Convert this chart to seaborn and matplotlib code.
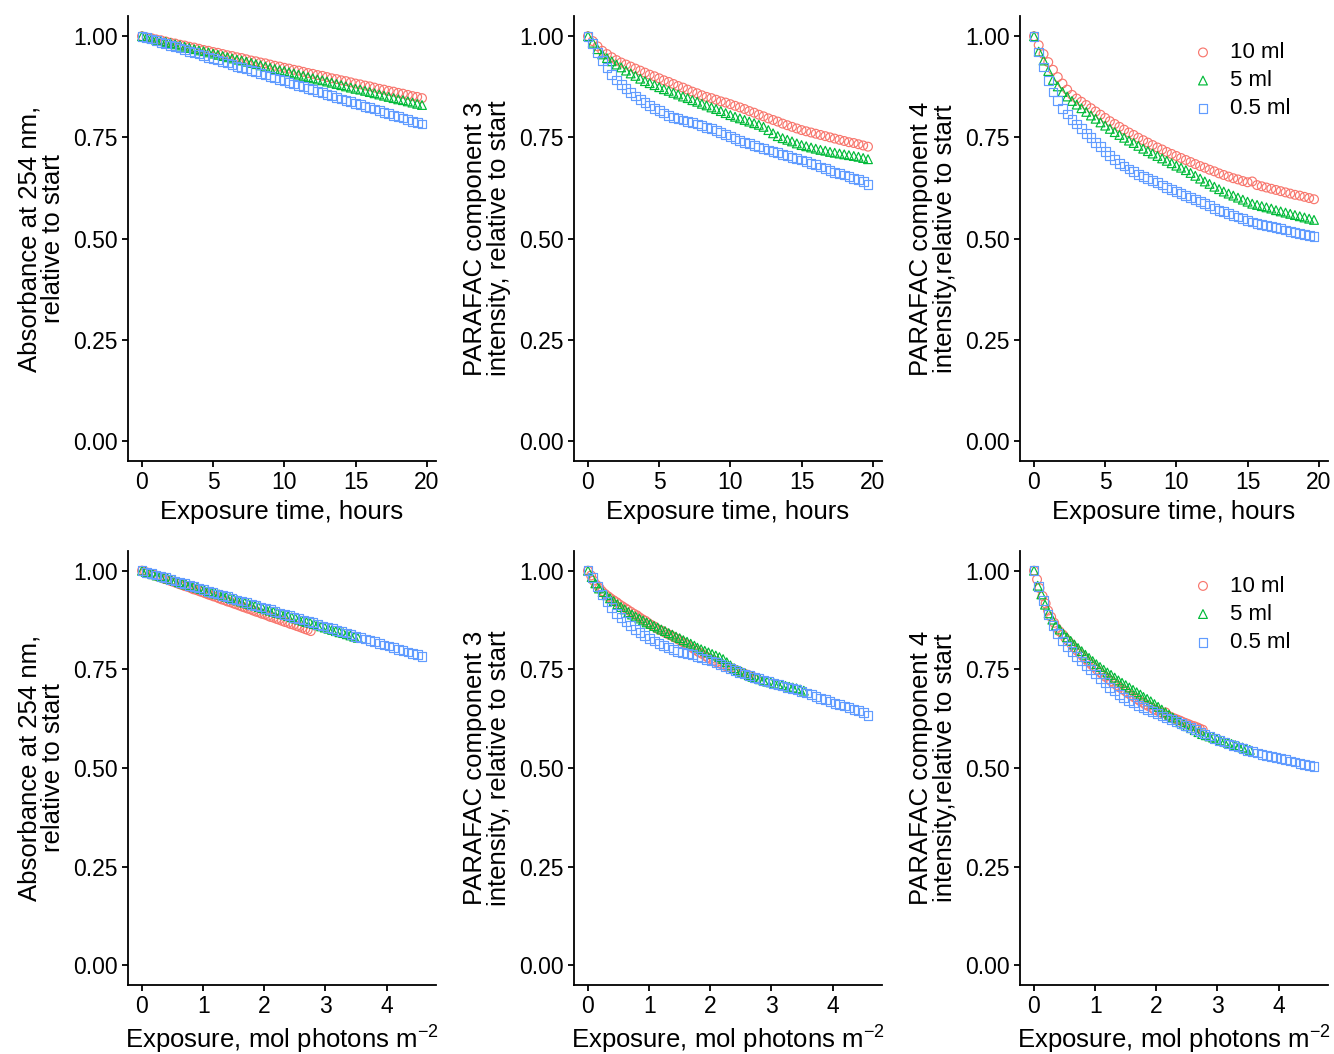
import matplotlib
matplotlib.use("Agg")
import matplotlib.pyplot as plt
import numpy as np
import pandas as pd
import seaborn as sns

# ---------------- data ----------------
volumes = ["10 ml", "5 ml", "0.5 ml"]
colors = ["#F8766D", "#00BA38", "#619CFF"]
markers = ["o", "^", "s"]

time_h = [0.00, 0.33, 0.67, 1.00, 1.33, 1.67, 2.00, 2.33, 2.67, 3.00,
          3.33, 3.67, 4.00, 4.33, 4.67, 5.00, 5.33, 5.67, 6.00, 6.33,
          6.67, 7.00, 7.33, 7.67, 8.00, 8.33, 8.67, 9.00, 9.33, 9.67,
          10.00, 10.33, 10.67, 11.00, 11.33, 11.67, 12.00, 12.33, 12.67, 13.00,
          13.33, 13.67, 14.00, 14.33, 14.67, 15.00, 15.33, 15.67, 16.00, 16.33,
          16.67, 17.00, 17.33, 17.67, 18.00, 18.33, 18.67, 19.00, 19.33, 19.67]

exposure_10ml = [0.00, 0.05, 0.09, 0.14, 0.19, 0.23, 0.28, 0.33, 0.37, 0.42,
                 0.47, 0.51, 0.56, 0.61, 0.65, 0.70, 0.75, 0.80, 0.84, 0.89,
                 0.94, 0.98, 1.03, 1.08, 1.12, 1.17, 1.22, 1.26, 1.31, 1.36,
                 1.40, 1.45, 1.50, 1.54, 1.59, 1.64, 1.68, 1.73, 1.78, 1.82,
                 1.87, 1.92, 1.96, 2.01, 2.06, 2.10, 2.15, 2.20, 2.24, 2.29,
                 2.34, 2.39, 2.43, 2.48, 2.53, 2.57, 2.62, 2.67, 2.71, 2.76]
exposure_5ml = [0.00, 0.06, 0.12, 0.18, 0.24, 0.30, 0.36, 0.42, 0.48, 0.54,
                0.60, 0.66, 0.72, 0.78, 0.84, 0.90, 0.96, 1.02, 1.08, 1.14,
                1.20, 1.26, 1.32, 1.38, 1.44, 1.50, 1.56, 1.62, 1.68, 1.74,
                1.79, 1.85, 1.91, 1.97, 2.03, 2.09, 2.15, 2.21, 2.27, 2.33,
                2.39, 2.45, 2.51, 2.57, 2.63, 2.69, 2.75, 2.81, 2.87, 2.93,
                2.99, 3.05, 3.11, 3.17, 3.23, 3.29, 3.35, 3.41, 3.47, 3.53]
exposure_05ml = [0.00, 0.08, 0.16, 0.23, 0.31, 0.39, 0.47, 0.54, 0.62, 0.70,
                 0.78, 0.85, 0.93, 1.01, 1.09, 1.16, 1.24, 1.32, 1.40, 1.47,
                 1.55, 1.63, 1.71, 1.79, 1.86, 1.94, 2.02, 2.10, 2.17, 2.25,
                 2.33, 2.41, 2.48, 2.56, 2.64, 2.72, 2.79, 2.87, 2.95, 3.03,
                 3.11, 3.18, 3.26, 3.34, 3.42, 3.49, 3.57, 3.65, 3.73, 3.80,
                 3.88, 3.96, 4.04, 4.11, 4.19, 4.27, 4.35, 4.42, 4.50, 4.58]

a254_10ml = [1.000, 0.997, 0.995, 0.992, 0.990, 0.987, 0.984, 0.982, 0.979, 0.977,
             0.974, 0.972, 0.969, 0.966, 0.964, 0.961, 0.959, 0.956, 0.953, 0.951,
             0.948, 0.946, 0.943, 0.940, 0.938, 0.935, 0.933, 0.930, 0.927, 0.925,
             0.922, 0.920, 0.917, 0.915, 0.912, 0.909, 0.907, 0.904, 0.902, 0.899,
             0.896, 0.894, 0.891, 0.889, 0.886, 0.883, 0.881, 0.878, 0.876, 0.873,
             0.870, 0.868, 0.865, 0.863, 0.860, 0.858, 0.855, 0.852, 0.850, 0.847]
a254_5ml = [1.000, 0.997, 0.994, 0.991, 0.988, 0.986, 0.983, 0.980, 0.977, 0.974,
            0.971, 0.968, 0.965, 0.963, 0.960, 0.957, 0.954, 0.951, 0.948, 0.945,
            0.942, 0.940, 0.937, 0.934, 0.931, 0.928, 0.925, 0.922, 0.919, 0.916,
            0.914, 0.911, 0.908, 0.905, 0.902, 0.899, 0.896, 0.893, 0.891, 0.888,
            0.885, 0.882, 0.879, 0.876, 0.873, 0.870, 0.868, 0.865, 0.862, 0.859,
            0.856, 0.853, 0.850, 0.847, 0.844, 0.842, 0.839, 0.836, 0.833, 0.830]
a254_05ml = [1.000, 0.996, 0.993, 0.989, 0.985, 0.982, 0.978, 0.974, 0.971, 0.967,
             0.963, 0.960, 0.956, 0.952, 0.948, 0.945, 0.941, 0.937, 0.934, 0.930,
             0.926, 0.923, 0.919, 0.915, 0.912, 0.908, 0.904, 0.901, 0.897, 0.893,
             0.890, 0.886, 0.882, 0.879, 0.875, 0.871, 0.868, 0.864, 0.860, 0.856,
             0.853, 0.849, 0.845, 0.842, 0.838, 0.834, 0.831, 0.827, 0.823, 0.820,
             0.816, 0.812, 0.809, 0.805, 0.801, 0.798, 0.794, 0.790, 0.787, 0.783]

c3_10ml = [1.000, 0.988, 0.975, 0.964, 0.956, 0.948, 0.941, 0.935, 0.930, 0.925,
           0.920, 0.915, 0.910, 0.905, 0.901, 0.896, 0.891, 0.887, 0.882, 0.877,
           0.873, 0.868, 0.863, 0.859, 0.854, 0.850, 0.847, 0.843, 0.839, 0.836,
           0.832, 0.828, 0.824, 0.820, 0.815, 0.811, 0.806, 0.802, 0.797, 0.793,
           0.789, 0.784, 0.780, 0.776, 0.772, 0.768, 0.765, 0.762, 0.759, 0.756,
           0.753, 0.750, 0.747, 0.744, 0.741, 0.738, 0.736, 0.733, 0.730, 0.727]
c3_5ml = [1.000, 0.984, 0.968, 0.955, 0.946, 0.938, 0.930, 0.923, 0.915, 0.908,
          0.902, 0.895, 0.889, 0.884, 0.879, 0.874, 0.869, 0.865, 0.860, 0.856,
          0.851, 0.847, 0.842, 0.838, 0.833, 0.829, 0.824, 0.820, 0.815, 0.810,
          0.805, 0.801, 0.797, 0.793, 0.789, 0.785, 0.781, 0.776, 0.768, 0.760,
          0.753, 0.748, 0.744, 0.740, 0.735, 0.731, 0.728, 0.725, 0.722, 0.719,
          0.717, 0.714, 0.712, 0.710, 0.708, 0.706, 0.704, 0.702, 0.699, 0.696]
c3_05ml = [1.000, 0.982, 0.960, 0.940, 0.922, 0.906, 0.892, 0.881, 0.871, 0.861,
           0.852, 0.844, 0.836, 0.829, 0.822, 0.816, 0.810, 0.805, 0.800, 0.796,
           0.793, 0.790, 0.787, 0.783, 0.779, 0.775, 0.771, 0.767, 0.762, 0.757,
           0.752, 0.748, 0.743, 0.738, 0.734, 0.730, 0.726, 0.722, 0.719, 0.715,
           0.712, 0.708, 0.705, 0.701, 0.698, 0.694, 0.690, 0.686, 0.682, 0.677,
           0.673, 0.668, 0.664, 0.661, 0.657, 0.653, 0.649, 0.645, 0.640, 0.634]

c4_10ml = [1.000, 0.978, 0.956, 0.936, 0.917, 0.899, 0.883, 0.868, 0.855, 0.846,
           0.838, 0.830, 0.822, 0.814, 0.806, 0.798, 0.790, 0.783, 0.776, 0.769,
           0.762, 0.756, 0.749, 0.743, 0.737, 0.731, 0.725, 0.720, 0.714, 0.709,
           0.704, 0.699, 0.694, 0.689, 0.684, 0.679, 0.675, 0.670, 0.666, 0.661,
           0.657, 0.653, 0.649, 0.646, 0.642, 0.639, 0.641, 0.632, 0.629, 0.626,
           0.623, 0.620, 0.617, 0.614, 0.611, 0.608, 0.606, 0.603, 0.600, 0.597]
c4_5ml = [1.000, 0.962, 0.940, 0.914, 0.892, 0.876, 0.862, 0.851, 0.840, 0.831,
          0.822, 0.813, 0.804, 0.796, 0.787, 0.779, 0.771, 0.763, 0.756, 0.749,
          0.742, 0.736, 0.729, 0.722, 0.716, 0.710, 0.704, 0.698, 0.692, 0.686,
          0.680, 0.675, 0.669, 0.662, 0.655, 0.648, 0.641, 0.635, 0.628, 0.622,
          0.616, 0.611, 0.606, 0.601, 0.596, 0.591, 0.586, 0.583, 0.580, 0.577,
          0.574, 0.570, 0.567, 0.564, 0.561, 0.558, 0.555, 0.552, 0.549, 0.546]
c4_05ml = [1.000, 0.961, 0.924, 0.890, 0.862, 0.841, 0.822, 0.808, 0.795, 0.783,
           0.771, 0.760, 0.749, 0.738, 0.727, 0.716, 0.705, 0.695, 0.686, 0.679,
           0.672, 0.665, 0.659, 0.653, 0.648, 0.643, 0.638, 0.632, 0.627, 0.622,
           0.617, 0.612, 0.607, 0.602, 0.597, 0.591, 0.586, 0.581, 0.575, 0.570,
           0.566, 0.561, 0.557, 0.553, 0.549, 0.545, 0.541, 0.538, 0.535, 0.532,
           0.529, 0.527, 0.524, 0.521, 0.518, 0.515, 0.512, 0.509, 0.507, 0.504]

y_labels = ["Absorbance at 254 nm,\nrelative to start",
            "PARAFAC component 3\nintensity, relative to start",
            "PARAFAC component 4\nintensity,relative to start"]
y_ticks = [0.00, 0.25, 0.50, 0.75, 1.00]
time_ticks = [0, 5, 10, 15, 20]
exposure_ticks = [0, 1, 2, 3, 4]

# ---------------- tidy table ----------------
exposures = [exposure_10ml, exposure_5ml, exposure_05ml]
a254 = [a254_10ml, a254_5ml, a254_05ml]
c3 = [c3_10ml, c3_5ml, c3_05ml]
c4 = [c4_10ml, c4_5ml, c4_05ml]
frames = []
for k, v in enumerate(volumes):
    frames.append(pd.DataFrame({"volume": v, "time": time_h, "exposure": exposures[k],
                                "A254": a254[k], "C3": c3[k], "C4": c4[k]}))
df = pd.concat(frames, ignore_index=True)

# ---------------- style ----------------
sns.set_style("ticks")
plt.rcParams["font.family"] = ["Liberation Sans", "DejaVu Sans"]
plt.rcParams["mathtext.fontset"] = "custom"
plt.rcParams["mathtext.rm"] = "Liberation Sans"
plt.rcParams["mathtext.it"] = "Liberation Sans:italic"
plt.rcParams["mathtext.default"] = "regular"
plt.rcParams["axes.linewidth"] = 1.3
plt.rcParams["xtick.major.width"] = 1.3
plt.rcParams["ytick.major.width"] = 1.3
plt.rcParams["xtick.major.size"] = 4.2
plt.rcParams["ytick.major.size"] = 4.2
plt.rcParams["xtick.color"] = "black"
plt.rcParams["ytick.color"] = "black"
plt.rcParams["xtick.labelcolor"] = "black"
plt.rcParams["ytick.labelcolor"] = "black"
plt.rcParams["axes.edgecolor"] = "black"
plt.rcParams["axes.labelcolor"] = "black"
plt.rcParams["text.color"] = "black"

W, H = 1334, 1054
fig = plt.figure(figsize=(W / 100, H / 100), dpi=100)

col_left = [128, 574, 1020]
ax_w = 308
rows = [(16, 461), (551, 985)]
ycols = ["A254", "C3", "C4"]
xinfo = [("time", "Exposure time, hours", time_ticks),
         ("exposure", "Exposure, mol photons m$^{-2}$", exposure_ticks)]
legend_top = [0.941, 0.943]

for r, (top, bot) in enumerate(rows):
    xcol, xlabel, xt = xinfo[r]
    for c in range(3):
        ax = fig.add_axes([col_left[c] / W, 1 - bot / H, ax_w / W, (bot - top) / H])
        for k, v in enumerate(volumes):
            sub = df[df["volume"] == v]
            sns.scatterplot(data=sub, x=xcol, y=ycols[c], ax=ax, marker=markers[k],
                            color=colors[k], facecolor="none", edgecolor=colors[k],
                            linewidth=0.85, s=40, label=v, legend=False)
        ax.set_ylim(-0.05, 1.05)
        ax.set_yticks(y_ticks)
        ax.set_yticklabels([f"{t:.2f}" for t in y_ticks])
        ax.set_xticks(xt)
        ax.margins(x=0.05)
        ax.tick_params(labelsize=16.5, pad=3, colors="black")
        ax.set_xlabel(xlabel, fontsize=18.5, labelpad=4, color="black")
        ax.set_ylabel(y_labels[c], fontsize=18.5, labelpad=6, linespacing=1.0, color="black")
        sns.despine(ax=ax)
        if c == 2:
            ax.legend(loc="upper left", bbox_to_anchor=(0.558, legend_top[r]), frameon=False,
                      fontsize=16, handlelength=1.0, handletextpad=0.72,
                      labelspacing=0.32, borderpad=0, borderaxespad=0)
        else:
            leg = ax.get_legend()
            if leg is not None:
                leg.remove()

fig.savefig("out.png", dpi=100)
